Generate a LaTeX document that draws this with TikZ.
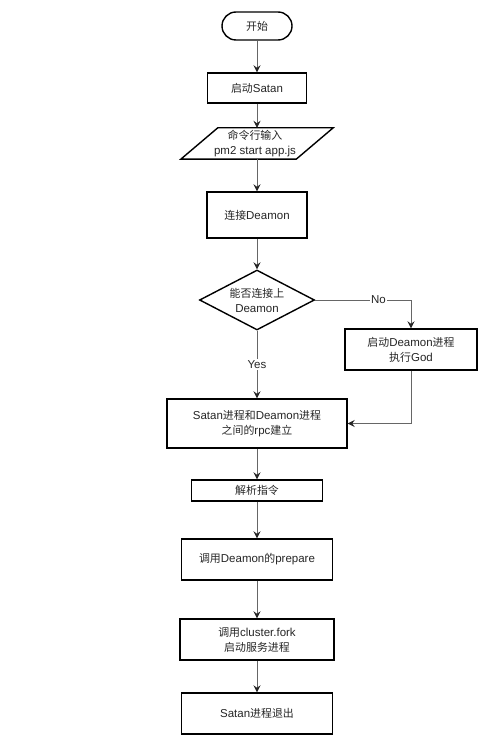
\documentclass[tikz,border=0pt]{standalone}
\usepackage{fontspec}
\setmainfont{Liberation Sans}
\newfontfamily\cjk[Scale=0.95]{Noto Sans CJK SC}
\newcommand\zh[1]{{\cjk #1}}
\usetikzlibrary{shapes.geometric,arrows.meta}
\begin{document}
\begin{tikzpicture}[x=1pt,y=-1pt,
  every node/.style={font=\fontsize{11.5}{15}\selectfont, align=center, inner sep=0pt, text=black!85},
  procbox/.style={draw=black, line width=1.4pt, rectangle, fill=white},
  termbox/.style={draw=black, line width=1.4pt, rectangle, rounded corners=14pt, fill=white},
  decbox/.style={draw=black, line width=1.4pt, diamond, aspect=2, fill=white},
  arr/.style={draw=black!60, line width=0.9pt, -{Stealth[length=7pt,width=7pt,inset=2.5pt,color=black!85]}},
  lbl/.style={fill=white, inner sep=1.5pt, text=black!85}]
\useasboundingbox[fill=white] (0,0) rectangle (496,754);

\node[termbox, minimum width=70, minimum height=28] (start) at (257,26) {\zh{开始}};
\node[procbox, minimum width=99, minimum height=30] (satan) at (257,88) {\zh{启动}Satan};
\node[minimum width=115, minimum height=31] (cmd) at (257,143.5) {};
\draw[black, line width=1.4pt] ([xshift=18.5pt]cmd.north west) -- ([xshift=18.5pt]cmd.north east)
  -- ([xshift=-18.5pt]cmd.south east) -- ([xshift=-18.5pt]cmd.south west) -- cycle;
\node (cmdtxt) at (255,143.5) {\zh{命令行输入}\\pm2 start app.js};
\node[procbox, minimum width=100, minimum height=46] (conn) at (257,215) {\zh{连接}Deamon};
\node[decbox, minimum width=115, minimum height=60] (dec) at (257,300) {\zh{能否连接上}\\Deamon};
\node[procbox, minimum width=132, minimum height=41] (god) at (411,349.5) {\zh{启动}Deamon\zh{进程}\\\zh{执行}God};
\node[procbox, minimum width=180, minimum height=49] (rpc) at (257,423.5) {Satan\zh{进程和}Deamon\zh{进程}\\\zh{之间的}rpc\zh{建立}};
\node[procbox, minimum width=131, minimum height=21] (parse) at (257,490.5) {\zh{解析指令}};
\node[procbox, minimum width=151, minimum height=41] (prep) at (257,559.5) {\zh{调用}Deamon\zh{的}prepare};
\node[procbox, minimum width=154, minimum height=41] (fork) at (257,639.5) {\zh{调用}cluster.fork\\\zh{启动服务进程}};
\node[procbox, minimum width=151, minimum height=41] (exit) at (257,713.5) {Satan\zh{进程退出}};

\draw[arr] (start) -- (satan);
\draw[arr] (satan) -- (cmd);
\draw[arr] (cmd) -- (conn);
\draw[arr] (conn) -- (dec);
\draw[arr] (dec) -- node[lbl] {Yes} (rpc);
\draw[arr] (dec.east) -| node[lbl, pos=0.33] {No} (god.north);
\draw[arr] (god.south) |- (rpc.east);
\draw[arr] (rpc) -- (parse);
\draw[arr] (parse) -- (prep);
\draw[arr] (prep) -- (fork);
\draw[arr] (fork) -- (exit);
\end{tikzpicture}
\end{document}
